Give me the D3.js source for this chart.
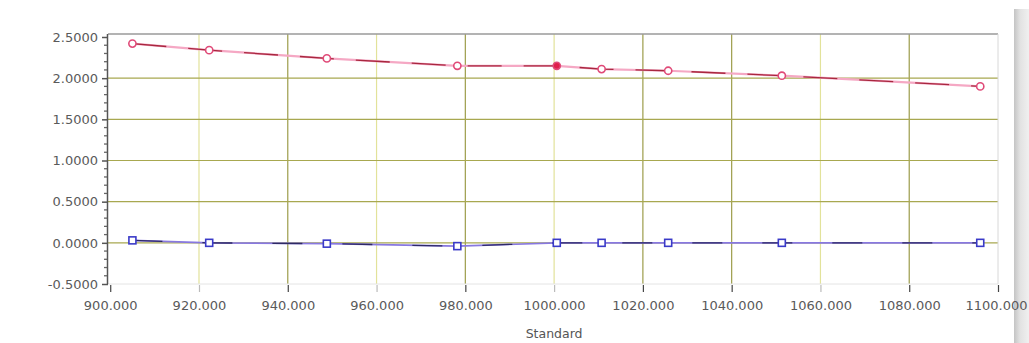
<!DOCTYPE html>
<html><head><meta charset="utf-8">
<script src="https://cdn.jsdelivr.net/npm/d3@7"></script>
<style>html,body{margin:0;padding:0;background:#fff;}svg{display:block;}</style>
</head><body>
<svg id="c" width="1029" height="343"></svg>
<script>
// Data
const standardX = [905.0, 922.3, 948.8, 978.2, 1000.6, 1010.7, 1025.7, 1051.3, 1096.0];
const redValues = [2.42, 2.34, 2.24, 2.15, 2.15, 2.11, 2.09, 2.03, 1.90];
const blueValues = [0.03, 0.00, -0.01, -0.04, 0.00, 0.00, 0.00, 0.00, 0.00];
const filledRedIndex = [4];
const xTicks = [900, 920, 940, 960, 980, 1000, 1020, 1040, 1060, 1080, 1100];
const yTicks = [-0.5, 0, 0.5, 1.0, 1.5, 2.0, 2.5];
const xLabel = "Standard";

const svg = d3.select("#c");
const L = 108, R = 998, T = 34, B = 284;
const x = d3.scaleLinear().domain([899.5, 1100]).range([L, R]);
const y = d3.scaleLinear().domain([-0.5, 2.5]).range([B, 37]);
const fmtY = d => d3.format(".4f")(d).replace("\u2212", "-");
const fmtX = d => d3.format(".3f")(d);

// right side panel
const grad = svg.append("defs").append("linearGradient").attr("id","pg");
grad.append("stop").attr("offset","0").attr("stop-color","#c4c4c4");
grad.append("stop").attr("offset","0.4").attr("stop-color","#e2e2e2");
grad.append("stop").attr("offset","1").attr("stop-color","#f0f0f0");
svg.append("rect").attr("x",1014).attr("y",9).attr("width",15).attr("height",334).attr("fill","url(#pg)");

// plot background
svg.append("rect").attr("x",L).attr("y",T).attr("width",R-L).attr("height",B-T).attr("fill","#fff");

// grid
const lightV = new Set([920, 960, 1000, 1060]);
svg.append("g").selectAll("line").data(xTicks.slice(1, -1)).join("line")
  .attr("x1", d => x(d)).attr("x2", d => x(d)).attr("y1", T).attr("y2", B)
  .attr("stroke", d => lightV.has(d) ? "#e2e29a" : "#9c9c4a").attr("stroke-width", 1.2);
svg.append("g").selectAll("line").data(yTicks.slice(1, -1)).join("line")
  .attr("x1", L).attr("x2", R).attr("y1", d => y(d)).attr("y2", d => y(d))
  .attr("stroke", "#a8a850").attr("stroke-width", 1.2);

// frame
svg.append("line").attr("x1",L).attr("x2",R).attr("y1",T).attr("y2",T).attr("stroke","#9a9a9a").attr("stroke-width",1.5);
svg.append("line").attr("x1",R).attr("x2",R).attr("y1",T).attr("y2",B).attr("stroke","#d8d8d8");
svg.append("line").attr("x1",L).attr("x2",R).attr("y1",B).attr("y2",B).attr("stroke","#e4e4e4");

// y axis
const yAxis = d3.axisLeft(y).tickValues(yTicks).tickFormat(fmtY).tickSize(6).tickPadding(4);
const gy = svg.append("g").attr("transform", `translate(${L},0)`).call(yAxis);
gy.select(".domain").attr("stroke","#555").attr("stroke-width",1.5).attr("d", `M-0.5,${T}V${B}`);
gy.selectAll(".tick line").attr("stroke","#555").attr("stroke-width",1.5);
gy.selectAll(".tick text").attr("font-family","DejaVu Sans").attr("font-size",13).attr("fill","#5a5a5a");
// minor ticks
const minor = d3.range(-0.5, 2.5001, 0.1).filter(v => Math.abs(v*2 - Math.round(v*2)) > 1e-6);
svg.append("g").selectAll("line").data(minor).join("line")
  .attr("x1", L-4).attr("x2", L-1).attr("y1", d => y(d)).attr("y2", d => y(d))
  .attr("stroke","#666").attr("stroke-width",1.3);

// x axis
const xAxis = d3.axisBottom(x).tickValues(xTicks).tickFormat(fmtX).tickSize(7).tickPadding(9);
const gx = svg.append("g").attr("transform", `translate(0,${B+1})`).call(xAxis);
gx.select(".domain").remove();
gx.selectAll(".tick line").attr("stroke", d => lightV.has(d) ? "#bbb" : "#444").attr("stroke-width",1.2);
gx.selectAll(".tick text").attr("font-family","DejaVu Sans").attr("font-size",13).attr("fill","#5a5a5a")
  .attr("dx", d => d === 1100 ? -2 : 0);

svg.append("text").attr("x", x(1000)).attr("y", 338).attr("text-anchor","middle")
  .attr("font-family","DejaVu Sans").attr("font-size",12.5).attr("fill","#555").text(xLabel);

// series
const redPts = standardX.map((d,i)=>[d, redValues[i]]);
const bluePts = standardX.map((d,i)=>[d, blueValues[i]]);
const line = d3.line().x(d=>x(d[0])).y(d=>y(d[1]));

svg.append("path").attr("d", line(redPts)).attr("fill","none").attr("stroke","#f5a8c4").attr("stroke-width",2.2);
svg.append("path").attr("d", line(redPts)).attr("fill","none").attr("stroke","#a8283f").attr("stroke-width",1.3)
  .attr("stroke-dasharray","34,22");
svg.append("path").attr("d", line(bluePts)).attr("fill","none").attr("stroke","#8878e0").attr("stroke-width",1.6);
svg.append("path").attr("d", line(bluePts)).attr("fill","none").attr("stroke","#2e2a66").attr("stroke-width",1.3)
  .attr("stroke-dasharray","30,40");

svg.append("g").selectAll("circle").data(redPts).join("circle")
  .attr("cx", d=>x(d[0])).attr("cy", d=>y(d[1])).attr("r", 3.6)
  .attr("fill", (d,i)=> filledRedIndex.includes(i) ? "#e0204a" : "#fff")
  .attr("stroke","#e04a78").attr("stroke-width",1.6);
svg.append("g").selectAll("rect").data(bluePts).join("rect")
  .attr("x", d=>x(d[0])-3.5).attr("y", d=>y(d[1])-3.5).attr("width",7).attr("height",7)
  .attr("fill","#fff").attr("stroke","#3a3ac8").attr("stroke-width",1.6);
</script>
</body></html>
